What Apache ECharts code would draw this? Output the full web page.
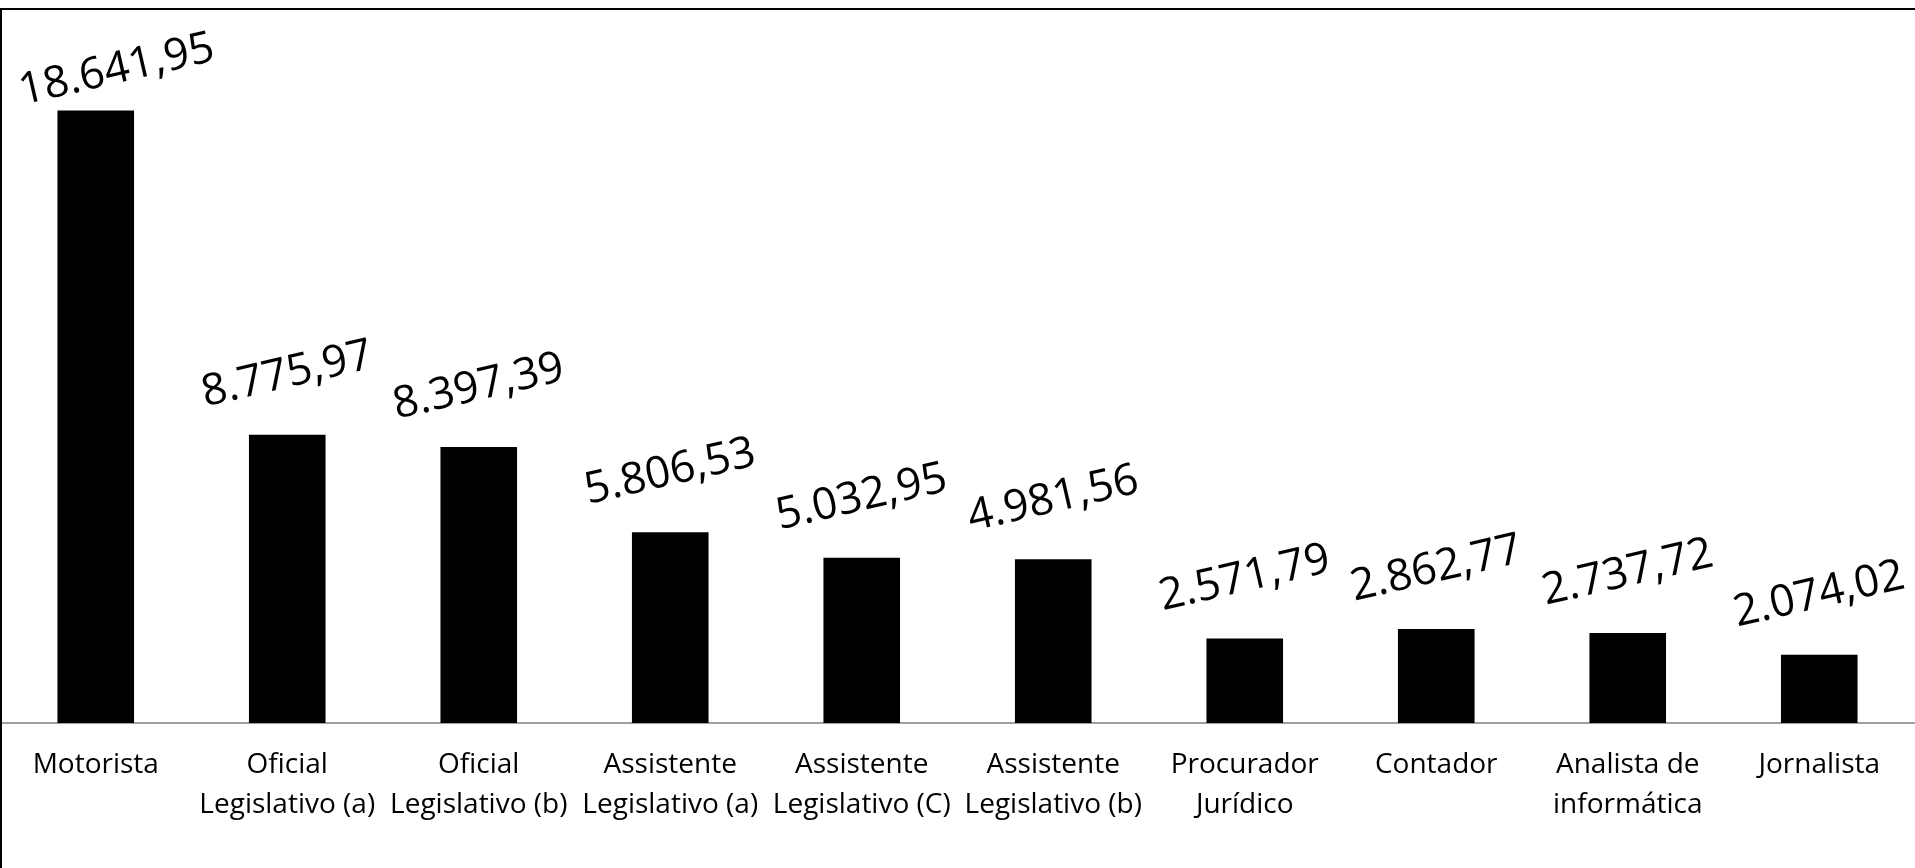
<!DOCTYPE html>
<html>
<head>
<meta charset="utf-8">
<script src="https://cdn.jsdelivr.net/npm/echarts@6/dist/echarts.min.js"></script>
<style>
html,body{margin:0;padding:0;background:#fff;}
#chart{width:1915px;height:868px;}
</style>
</head>
<body>
<div id="chart"></div>
<script>
const categories = [
  "Motorista",
  "Oficial\nLegislativo (a)",
  "Oficial\nLegislativo (b)",
  "Assistente\nLegislativo (a)",
  "Assistente\nLegislativo (C)",
  "Assistente\nLegislativo (b)",
  "Procurador\nJurídico",
  "Contador",
  "Analista de\ninformática",
  "Jornalista"
];
const values = [18641.95, 8775.97, 8397.39, 5806.53, 5032.95, 4981.56, 2571.79, 2862.77, 2737.72, 2074.02];

function fmtBR(v) {
  const parts = v.toFixed(2).split('.');
  const intPart = parts[0].replace(/\B(?=(\d{3})+(?!\d))/g, '.');
  return intPart + ',' + parts[1];
}

const chart = echarts.init(document.getElementById('chart'), null, {renderer: 'canvas'});
const option = {
  backgroundColor: '#ffffff',
  animation: false,
  graphic: [{
    type: 'rect',
    z: 100,
    shape: {x: 1, y: 9, width: 1940, height: 900},
    style: {fill: 'none', stroke: '#000', lineWidth: 2}
  }],
  grid: {left: 0, width: 1919, top: 10, bottom: 145, containLabel: false},
  xAxis: {
    type: 'category',
    data: categories,
    axisTick: {show: false},
    axisLine: {lineStyle: {color: '#a0a0a0', width: 2}},
    axisLabel: {
      interval: 0,
      margin: 22,
      color: '#000',
      fontFamily: 'Open Sans',
      fontSize: 28,
      lineHeight: 40
    }
  },
  yAxis: {
    type: 'value',
    min: 0,
    max: 21700,
    show: false,
    splitLine: {show: false}
  },
  series: [{
    type: 'bar',
    barWidth: '40%',
    data: values.map((v, i) => i === 0 ? {value: v, label: {offset: [16, 24]}} : v),
    itemStyle: {color: '#000'},
    label: {
      show: true,
      position: 'top',
      distance: 60,
      rotate: 13,
      align: 'center',
      verticalAlign: 'middle',
      color: '#000',
      fontFamily: 'Open Sans',
      fontSize: 44,
      formatter: p => fmtBR(p.value)
    }
  }]
};
chart.setOption(option);
</script>
</body>
</html>
